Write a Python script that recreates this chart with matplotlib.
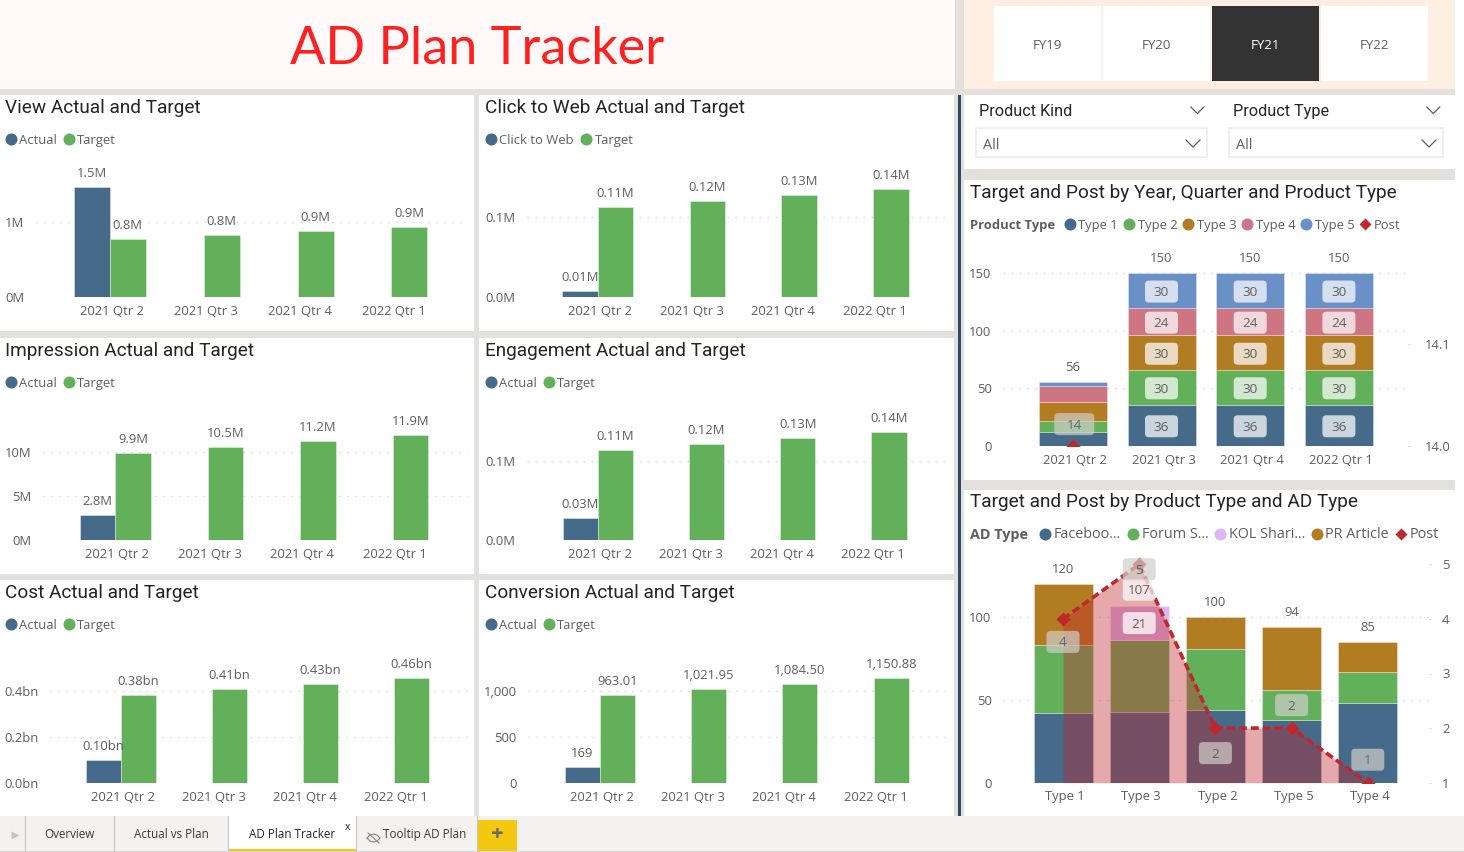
import matplotlib
matplotlib.use("Agg")
import matplotlib.pyplot as plt
from matplotlib.patches import Rectangle, FancyBboxPatch
from matplotlib.transforms import Affine2D, IdentityTransform

W, H = 1464, 853

# Small actual / target panels
quarters = ["2021 Qtr 2", "2021 Qtr 3", "2021 Qtr 4", "2022 Qtr 1"]
view_actual = [1.467]
view_target = [0.777, 0.827, 0.88, 0.933]
click_actual = [0.0075]
click_target = [0.113, 0.120, 0.1275, 0.136]
impression_actual = [2.8]
impression_target = [9.9, 10.5, 11.2, 11.9]
engagement_actual = [0.0276]
engagement_target = [0.1138, 0.121, 0.128, 0.136]
cost_actual = [0.098]
cost_target = [0.384, 0.409, 0.433, 0.459]
conversion_actual = [169]
conversion_target = [963.01, 1021.95, 1084.50, 1150.88]

# Target and post by quarter
type_names = ["Type 1", "Type 2", "Type 3", "Type 4", "Type 5"]
quarter_stacks = [
    [12, 36, 36, 36],
    [10, 30, 30, 30],
    [16, 30, 30, 30],
    [14, 24, 24, 24],
    [4, 30, 30, 30],
]
quarter_post = [14]

# Target and post by product type
product_order = ["Type 1", "Type 3", "Type 2", "Type 5", "Type 4"]
ad_types = ["Faceboo...", "Forum S...", "KOL Shari...", "PR Article"]
facebook = [42, 43, 44, 38, 48]
forum = [41, 43, 37, 18, 19]
kol = [0, 21, 0, 0, 0]
pr_article = [37, 0, 19, 38, 18]
product_post = [4, 5, 2, 2, 1]

fiscal_years = ["FY19", "FY20", "FY21", "FY22"]
tabs = ["Overview", "Actual vs Plan", "AD Plan Tracker", "Tooltip AD Plan"]

BLUE = "#466A8A"
GREEN = "#62B05A"
BROWN = "#B27D22"
PINK = "#CD7583"
LIGHT_BLUE = "#6A90C8"
LILAC = "#DDB6F2"
RED = "#C0272D"
BG = "#E4E1DC"
TXT = "#605E5C"
TITLE = "#252423"
GRID = "#D6D4D2"

plt.rcParams["font.family"] = ["Open Sans", "DejaVu Sans"]
LABEL_SIZE = 9.4
SHIFT = 1  # everything sits one pixel lower than the layout numbers below

fig = plt.figure(figsize=(W / 100, H / 100), dpi=100, facecolor="white")

page = fig.add_axes([0, 0, 1, 1])
page.set_xlim(0, W)
page.set_ylim(H - SHIFT, -SHIFT)
page.axis("off")


def rect(x0, y0, x1, y1, color, **kw):
    page.add_patch(Rectangle((x0, y0), x1 - x0, y1 - y0, facecolor=color, edgecolor="none", **kw))


def px_axes(x0, top, x1, bottom):
    ax = fig.add_axes([(x0 - 0.5) / W, 1 - (bottom + SHIFT) / H, (x1 - x0) / W, (bottom - top) / H])
    ax.patch.set_alpha(0)
    for s in ax.spines.values():
        s.set_visible(False)
    return ax


def nudge_ticklabels(ax_labels, dx=0, dy=0):
    for t in ax_labels:
        t.set_transform(t.get_transform() + Affine2D().translate(dx, dy))


def style_axes(ax, label_dx=2, ypad=11, xpad=7):
    ax.set_axisbelow(True)
    ax.grid(axis="y", color=GRID, lw=0.9, linestyle=(0, (1.3, 5.1)))
    ax.grid(axis="x", visible=False)
    ax.tick_params(axis="both", length=0, labelsize=LABEL_SIZE, labelcolor=TXT)
    ax.tick_params(axis="y", pad=ypad * 0.72)
    ax.tick_params(axis="x", pad=xpad * 0.72)
    nudge_ticklabels(ax.get_xticklabels(), dx=label_dx)
    nudge_ticklabels(ax.get_yticklabels(), dy=1)


def legend_item(x, y, color, text, text_x, marker="o", size=12, fontsize=LABEL_SIZE):
    page.plot([x], [y], marker=marker, ms=size * 0.72, color=color, mec="none", clip_on=False)
    page.text(text_x, y, text, color=TXT, fontsize=fontsize, va="center", ha="left")


def panel_title(x, y, text):
    page.text(x, y, text, color=TITLE, fontsize=13.7, family="Roboto", va="center", ha="left")


def boxed_label(ax, x, y, text, color, box_color="white", alpha=0.72, width=33, height=22):
    # x, y are pixels on the saved figure, measured from the lower left corner
    ax.add_artist(FancyBboxPatch((x - width / 2 + 4, y - height / 2 + 4), width - 8, height - 8,
                                 boxstyle="round,pad=4,rounding_size=4", facecolor=box_color,
                                 edgecolor="none", alpha=alpha, transform=IdentityTransform(),
                                 clip_on=False, zorder=8))
    ax.text(x, y, text, color=color, fontsize=LABEL_SIZE + 0.3, ha="center", va="center",
            transform=IdentityTransform(), zorder=9)


def actual_target_panel(title, series_name, actual, target, fmt, ticks, tick_labels, grid_x, base, ref,
                        c0, step, bar_w, title_xy, legend_x, legend_y):
    panel_title(title_xy[0], title_xy[1], title)
    legend_item(legend_x[0], legend_y, BLUE, series_name, legend_x[1])
    legend_item(legend_x[2], legend_y, GREEN, "Target", legend_x[3])

    top = base - 135
    ax = px_axes(grid_x[0], top, grid_x[1], base)
    ax.set_xlim((grid_x[0] - c0) / step, (grid_x[1] - c0) / step)
    ax.set_ylim(0, ref[0] * (base - top) / (base - ref[1]))
    w = bar_w / step
    edge = dict(edgecolor="#FFFFFF60", linewidth=0.7)
    for i, v in enumerate(actual):
        ax.bar(i - w / 2, v, w, color=BLUE, **edge)
        ax.annotate(fmt(v), (i - w / 2, v), xytext=(0, 14.5), textcoords="offset pixels", ha="center",
                    va="center", color=TXT, fontsize=LABEL_SIZE)
    for i, v in enumerate(target):
        ax.bar(i + w / 2, v, w, color=GREEN, **edge)
        ax.annotate(fmt(v), (i + w / 2, v), xytext=(0, 14.5), textcoords="offset pixels", ha="center",
                    va="center", color=TXT, fontsize=LABEL_SIZE)
    ax.set_xticks(range(len(quarters)))
    ax.set_xticklabels(quarters)
    ax.set_yticks(ticks)
    ax.set_yticklabels(tick_labels)
    style_axes(ax)


# Page furniture
rect(0, -1, 1455, 816, BG)
rect(0, -1, 955, 89, "#FFFAF9")
rect(964, -1, 1455, 89, "#FEEEE3")
page.text(477.5, 62.5, "AD Plan Tracker", color="#FF2020", fontsize=37.6, family="Lato", ha="center", va="baseline")

for x0, y0, x1, y1 in [(0, 95, 474, 331), (479, 95, 954, 331),
                       (0, 338, 474, 574), (479, 338, 954, 574),
                       (0, 580, 474, 816), (479, 580, 954, 816),
                       (964, 95, 1455, 169), (964, 180, 1455, 480), (964, 490, 1455, 816)]:
    rect(x0, y0, x1, y1, "white")
rect(958, 95, 960.5, 816, "#2F4A66")

# Fiscal year buttons
for name, (x0, x1) in zip(fiscal_years, [(993.8, 1100.8), (1103, 1210), (1212, 1319), (1321, 1428)]):
    active = name == "FY21"
    rect(x0, 6, x1, 81, "#333333" if active else "white")
    page.text((x0 + x1) / 2, 44, name, color="white" if active else TXT, fontsize=LABEL_SIZE + 0.2,
              ha="center", va="center")

# Slicers
for name, tx, chev, bx0, bx1, chev2 in [("Product Kind", 979, 1197.4, 976, 1207.4, 1193),
                                        ("Product Type", 1233, 1433.3, 1229.4, 1443, 1429)]:
    page.text(tx, 110, name, color=TITLE, fontsize=11.7, family="Roboto", va="center")
    page.plot([chev - 6.5, chev, chev + 6.5], [107, 113.5, 107], color="#605E5C", lw=0.9)
    page.add_patch(Rectangle((bx0, 127.5), bx1 - bx0, 29.5, facecolor="white", edgecolor="#EDEBE9", lw=1.2))
    page.text(bx0 + 7, 144, "All", color=TXT, fontsize=LABEL_SIZE + 1, va="center")
    page.plot([chev2 - 7, chev2, chev2 + 7], [140, 147, 140], color="#605E5C", lw=0.9)

actual_target_panel("View Actual and Target", "Actual", view_actual, view_target,
                    lambda v: f"{v:.1f}M", [0, 1], ["0M", "1M"], (36, 468), 297.3, (1, 222.3),
                    110, 94, 36, (5, 107), (11.3, 19.2, 68.5, 76.8), 139.3)
actual_target_panel("Click to Web Actual and Target", "Click to Web", click_actual, click_target,
                    lambda v: f"{v:.2f}M", [0, 0.1], ["0.0M", "0.1M"], (527, 945), 297.3, (0.1, 217.3),
                    598.3, 91.8, 35.4, (485, 107), (491.3, 499.2, 586.3, 594.5), 139.3)
actual_target_panel("Impression Actual and Target", "Actual", impression_actual, impression_target,
                    lambda v: f"{v:.1f}M", [0, 5, 10], ["0M", "5M", "10M"], (43, 468), 540.3, (10, 451.7),
                    115.7, 92.5, 35.4, (5, 350), (11.3, 19.2, 68.5, 76.8), 382.3)
actual_target_panel("Engagement Actual and Target", "Actual", engagement_actual, engagement_target,
                    lambda v: f"{v:.2f}M", [0, 0.1], ["0.0M", "0.1M"], (527, 945), 540.3, (0.1, 460.7),
                    598.3, 91.2, 35.2, (485, 350), (491.3, 499.2, 549, 556.8), 382.3)
actual_target_panel("Cost Actual and Target", "Actual", cost_actual, cost_target,
                    lambda v: f"{v:.2f}bn", [0, 0.2, 0.4], ["0.0bn", "0.2bn", "0.4bn"], (50, 468), 782.7,
                    (0.4, 691.3), 121.3, 91.1, 35, (5, 592), (11.3, 19.2, 68.5, 76.8), 624.3)
actual_target_panel("Conversion Actual and Target", "Actual", conversion_actual, conversion_target,
                    lambda v: f"{v:,.0f}" if v == 169 else f"{v:,.2f}", [0, 500, 1000], ["0", "500", "1,000"],
                    (528, 947.7), 782.7, (1000, 691.3), 600.3, 91.3, 35,
                    (485, 592), (491.3, 499.2, 549, 556.8), 624.3)

# Stacked columns by quarter with the post marker on a second axis
panel_title(970, 192, "Target and Post by Year, Quarter and Product Type")
page.text(970, 224, "Product Type", color=TXT, fontsize=LABEL_SIZE, weight="bold", va="center")
type_colors = [BLUE, GREEN, BROWN, PINK, LIGHT_BLUE]
for name, color, cx, tx in zip(type_names, type_colors,
                               [1069.7, 1129, 1188.3, 1247.3, 1306.3],
                               [1078, 1137.7, 1197, 1255.7, 1314.7]):
    legend_item(cx, 224, color, name, tx)
legend_item(1364.7, 224, RED, "Post", 1373.7, marker="D", size=8.5)

ax1 = px_axes(1003, 262, 1408, 446)
ax1.set_xlim((1003 - 1073.3) / 88.7, (1408 - 1073.3) / 88.7)
ax1.set_ylim(0, 150 * (446 - 262) / (446 - 273.3))
bar_w = 68 / 88.7
bottoms = [0, 0, 0, 0]
segments = []
for values, color in zip(quarter_stacks, type_colors):
    ax1.bar(range(4), values, bar_w, bottom=bottoms, color=color, edgecolor="#FFFFFF50", linewidth=0.7)
    segments.append(list(zip(values, bottoms)))
    bottoms = [b + v for b, v in zip(bottoms, values)]
ax1.set_xticks(range(4))
ax1.set_xticklabels(quarters)
ax1.set_yticks([0, 50, 100, 150])
style_axes(ax1, xpad=7)

ax1b = ax1.twinx()
ax1b.patch.set_alpha(0)
for s in ax1b.spines.values():
    s.set_visible(False)
ax1b.set_ylim(14.0, 14.0 + 0.1 * (446 - 262) / (446 - 344))
ax1b.plot(range(len(quarter_post)), quarter_post, marker="D", ms=7, color=RED, mec="none", lw=0)
ax1b.set_yticks([14.0, 14.1])
ax1b.set_yticklabels(["14.0", "14.1"])
ax1b.tick_params(axis="y", length=1.2, width=0.8, color=GRID, pad=11, labelsize=LABEL_SIZE, labelcolor=TXT)
nudge_ticklabels(ax1b.get_yticklabels(), dy=1)

for i, total in enumerate(bottoms):
    px, py = ax1.transData.transform((i, total))
    ax1b.text(px, py + 15.5, str(total), color=TXT, fontsize=LABEL_SIZE, ha="center", va="center",
              transform=IdentityTransform())
for seg in segments:
    for i in range(1, 4):
        v, b = seg[i]
        px, py = ax1.transData.transform((i, b + v / 2))
        boxed_label(ax1b, px, py - 1, str(v), TXT)
px, py = ax1.transData.transform((0, 19))
boxed_label(ax1b, px + 1.5, py, str(quarter_post[0]), "#4F6C87", box_color="#D0CEC8", alpha=0.7, width=40)

# Stacked columns by product type with the post area on a second axis
panel_title(970, 501, "Target and Post by Product Type and AD Type")
page.text(970, 533.7, "AD Type", color=TXT, fontsize=LABEL_SIZE + 1, weight="bold", va="center")
ad_colors = [BLUE, GREEN, LILAC, BROWN]
for name, color, cx, tx in zip(ad_types, ad_colors, [1044.7, 1133.3, 1219.7, 1316.7],
                               [1053.7, 1142, 1229, 1325]):
    legend_item(cx, 533.7, color, name, tx, fontsize=LABEL_SIZE + 1)
legend_item(1400.7, 533.7, RED, "Post", 1410, marker="D", size=8.5, fontsize=LABEL_SIZE + 1)

ax2 = px_axes(1003, 545, 1429, 782.7)
ax2.set_xlim((1003 - 1063.5) / 76.2, (1429 - 1063.5) / 76.2)
ax2.set_ylim(0, 100 * (782.7 - 545) / (782.7 - 617.3))
bar_w = 59 / 76.2
bottoms = [0] * 5
kol_bottoms = None
for values, color in zip([facebook, forum, kol, pr_article], ad_colors):
    ax2.bar(range(5), values, bar_w, bottom=bottoms, color=color, edgecolor="#FFFFFF50", linewidth=0.7)
    if values is kol:
        kol_bottoms = list(bottoms)
    bottoms = [b + v for b, v in zip(bottoms, values)]
ax2.set_xticks(range(5))
ax2.set_xticklabels(product_order)
ax2.set_yticks([0, 50, 100])
style_axes(ax2, xpad=6)

ax2b = ax2.twinx()
ax2b.patch.set_alpha(0)
for s in ax2b.spines.values():
    s.set_visible(False)
ax2b.set_ylim(1, 1 + 4 * (782.7 - 545) / (782.7 - 564.3))
xs = list(range(5))
ax2b.fill_between(xs, product_post, 1, color=RED, alpha=0.4, linewidth=0)
ax2b.plot(xs, product_post, color=RED, lw=2.6, linestyle=(0, (2.2, 1.1)), marker="D", ms=7.5, mec="none")
ax2b.set_yticks([1, 2, 3, 4, 5])
ax2b.tick_params(axis="y", length=1.2, width=0.8, color=GRID, pad=8.5, labelsize=LABEL_SIZE, labelcolor=TXT)
nudge_ticklabels(ax2b.get_yticklabels(), dy=1)

for i, total in enumerate(bottoms):
    px, py = ax2.transData.transform((i, total))
    if total == 107:
        boxed_label(ax2b, px, py + 16, str(total), TXT, alpha=0.7)
    else:
        ax2b.text(px, py + 16, str(total), color=TXT, fontsize=LABEL_SIZE, ha="center", va="center",
                  transform=IdentityTransform())
px, py = ax2.transData.transform((1, kol_bottoms[1] + kol[1] / 2))
boxed_label(ax2b, px, py, str(kol[1]), TXT, alpha=0.75)

post_label_shift = [-23, -5, -25, 23, 23]
post_label_colors = ["#4F6C87", TXT, TXT, TXT, "#4F6C87"]
for i, v in enumerate(product_post):
    px, py = ax2b.transData.transform((i, v))
    boxed_label(ax2b, px, py + post_label_shift[i], str(v), post_label_colors[i], box_color="#D0CEC8", alpha=0.7)

# Report tab bar
rect(0, 816, W, 853, "#F3F2F1")
rect(229, 816, 355.5, 849, "white")
rect(229, 849, 355.5, 852, "#F2C811")
rect(478, 819.5, 516.5, 851, "#F2C811")
rect(0, 851, W, 852, "#D8D6D4")
for x in [24.8, 114.3, 228.3, 355.7, 477]:
    page.plot([x, x], [816, 851], color="#C8C6C4", lw=0.8)
page.plot([15], [835], marker=">", ms=6, color="#C8C6C4", mec="none")
for name, x in zip(tabs, [69.5, 171, 292, 425]):
    page.text(x, 834, name, color="#252423" if name == "AD Plan Tracker" else "#3B3A39",
              fontsize=8.4, ha="center", va="center")
page.text(347.5, 826.5, "x", color="#252423", fontsize=7.5, ha="center", va="center")
# crossed-out eye on the hidden tab
page.plot([367, 370, 373.5, 377, 380], [838, 835, 834, 835, 838], color="#8A8886", lw=0.8)
page.plot([367, 370, 373.5, 377, 380], [838, 841, 842, 841, 838], color="#8A8886", lw=0.8)
page.plot([368, 379], [833, 843], color="#8A8886", lw=0.8)
page.text(497, 834, "+", color="#6B6A68", fontsize=16, weight="bold", ha="center", va="center")

page.set_xlim(0, W)
page.set_ylim(H - SHIFT, -SHIFT)
fig.savefig("out.png", dpi=100)
